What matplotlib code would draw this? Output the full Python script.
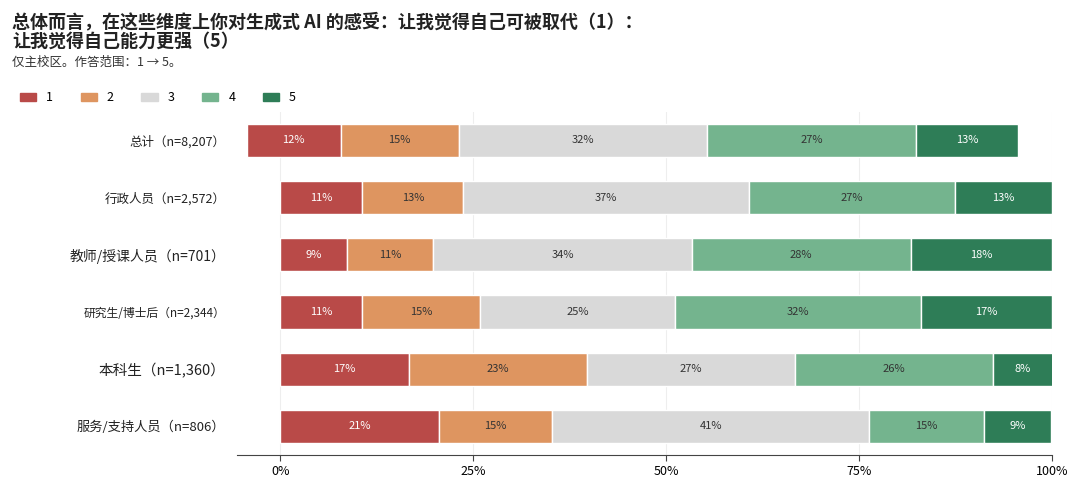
import matplotlib

matplotlib.use("Agg")
import matplotlib.pyplot as plt  # noqa: E402
from matplotlib.patches import Patch  # noqa: E402

plt.rcParams["font.family"] = ["Noto Sans CJK SC", "DejaVu Sans"]

GROUPS = ["总计（n=8,207）", "行政人员（n=2,572）", "教师/授课人员（n=701）",
          "研究生/博士后（n=2,344）", "本科生（n=1,360）", "服务/支持人员（n=806）"]
LABEL_SIZES = [9, 9, 10, 8.5, 10.5, 9.5]
STARTS = [-4.4, 0, 0, 0, 0, 0]
LEVELS = ["1", "2", "3", "4", "5"]
COLORS = ["#b94a48", "#de9560", "#d9d9d9", "#74b48e", "#2e7d57"]
TEXT_COLORS = ["white", "#333333", "#333333", "#333333", "white"]
VALUES = [
    [12.2, 15.3, 32.2, 27.1, 13.2],
    [10.6, 13.1, 37.0, 26.7, 12.6],
    [8.6, 11.2, 33.5, 28.4, 18.3],
    [10.6, 15.3, 25.2, 31.9, 17.0],
    [16.6, 23.1, 27.0, 25.6, 7.8],
    [20.6, 14.6, 41.1, 14.9, 8.7],
]

fig = plt.figure(figsize=(10.8, 4.86), dpi=100)
ax = fig.add_axes([0.219, 0.064, 0.755, 0.706])

for i, row in enumerate(VALUES):
    left = STARTS[i]
    for j, v in enumerate(row):
        ax.barh(i, v, left=left, height=0.58, color=COLORS[j], edgecolor="white", linewidth=1)
        ax.text(left + v / 2, i, f"{round(v)}%", ha="center", va="center",
                fontsize=8, color=TEXT_COLORS[j])
        left += v

ax.set_ylim(len(GROUPS) - 0.5, -0.5)
ax.set_xlim(-5.7, 100)
ax.set_yticks(range(len(GROUPS)))
ax.set_yticklabels(GROUPS)
for lab, fs in zip(ax.get_yticklabels(), LABEL_SIZES):
    lab.set_fontsize(fs)
    lab.set_fontweight("medium")
    lab.set_color("#222222")
ax.tick_params(axis="y", length=0, pad=8)
ax.set_xticks([0, 25, 50, 75, 100])
ax.set_xticklabels(["0%", "25%", "50%", "75%", "100%"], fontsize=9)
ax.tick_params(axis="x", length=4, color="#444444")
ax.grid(axis="x", color="#eeeeee", linewidth=0.8)
ax.set_axisbelow(True)
for s in ["top", "right", "left"]:
    ax.spines[s].set_visible(False)
ax.spines["bottom"].set_color("#444444")

fig.text(0.011, 0.975, "总体而言，在这些维度上你对生成式 AI 的感受：让我觉得自己可被取代（1）：\n让我觉得自己能力更强（5）",
         fontsize=13, fontweight="bold", va="top", color="#222222", linespacing=1.05)
fig.text(0.011, 0.885, "仅主校区。作答范围：1 → 5。", fontsize=9, va="top", color="#333333")

handles = [Patch(color=c, label=l) for c, l in zip(COLORS, LEVELS)]
fig.legend(handles=handles, loc="upper left", bbox_to_anchor=(0.008, 0.835), ncol=5,
           frameon=False, fontsize=9, handlelength=1.3, handleheight=0.7, columnspacing=2.2)

fig.savefig("out.png", dpi=100)
